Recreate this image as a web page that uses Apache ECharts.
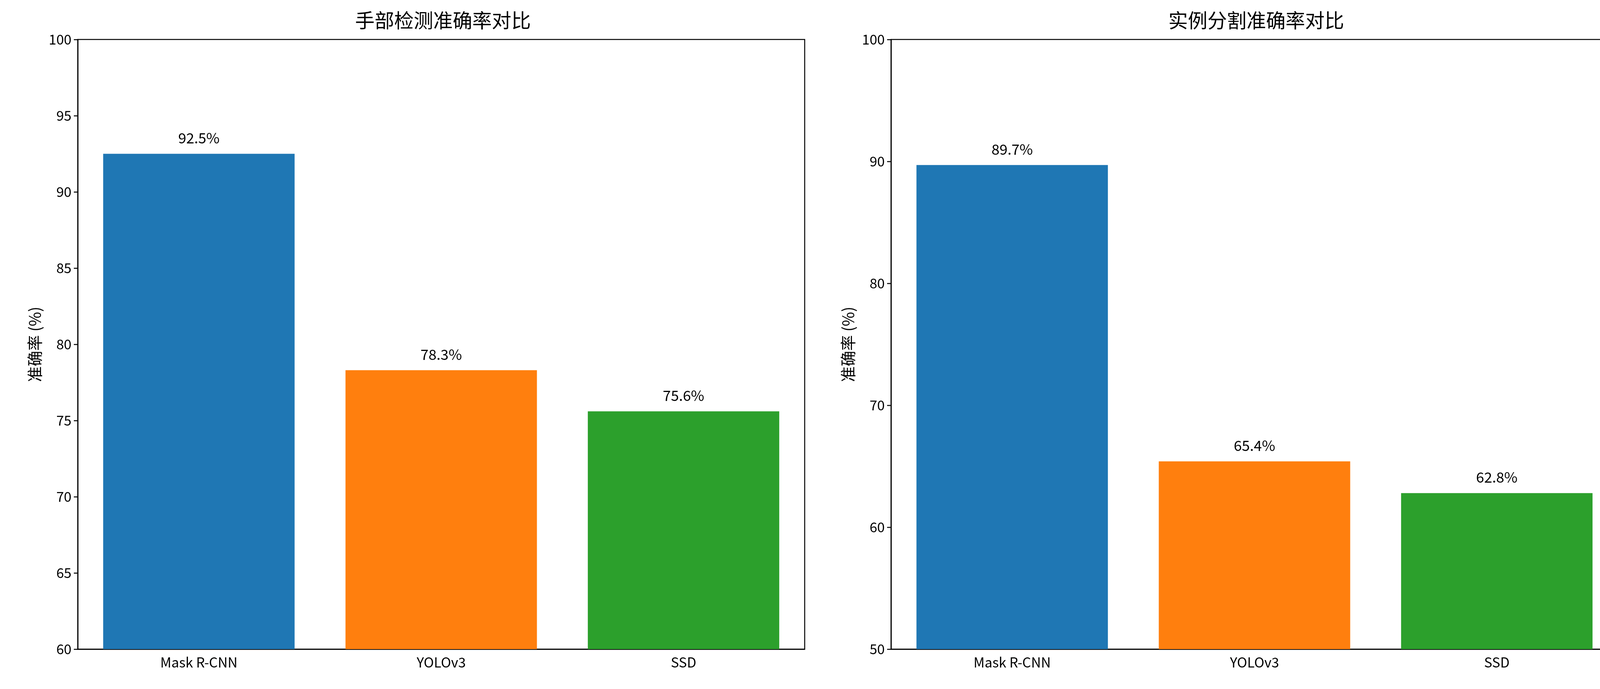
<!DOCTYPE html>
<html><head><meta charset="utf-8">
<script src="https://cdn.jsdelivr.net/npm/echarts@6/dist/echarts.min.js"></script>
<style>html,body{margin:0;background:#fff}#c{width:4168px;height:1763px}</style>
</head><body><div id="c"></div>
<script>
var categories = ['Mask R-CNN', 'YOLOv3', 'SSD'];
var handValues = [92.5, 78.3, 75.6];
var segValues = [89.7, 65.4, 62.8];
var colors = ['#1f77b4', '#ff7f0e', '#2ca02c'];
var titles = ['手部检测准确率对比', '实例分割准确率对比'];

var font = '"Noto Sans CJK SC", sans-serif';
var chart = echarts.init(document.getElementById('c'));

function grid(left) {
    return {left: left, width: 1861, top: 101, height: 1560, show: true, borderColor: '#000', borderWidth: 2.5, backgroundColor: 'transparent'};
}
function xAxis(i) {
    return {type: 'category', gridIndex: i, data: categories,
        axisLine: {lineStyle: {color: '#000', width: 2.5}},
        axisTick: {alignWithLabel: true, length: 10, lineStyle: {color: '#000', width: 2.5}},
        axisLabel: {color: '#000', fontSize: 35, fontFamily: font, margin: 16}};
}
function yAxis(i, min, interval) {
    return {type: 'value', gridIndex: i, min: min, max: 100, interval: interval,
        name: '准确率 (%)', nameLocation: 'middle', nameGap: 90,
        nameTextStyle: {color: '#000', fontSize: 40, fontFamily: font},
        axisLine: {show: true, lineStyle: {color: '#000', width: 2.5}},
        axisTick: {show: true, length: 10, lineStyle: {color: '#000', width: 2.5}},
        splitLine: {show: false},
        axisLabel: {color: '#000', fontSize: 35, fontFamily: font, margin: 16}};
}
function series(i, values) {
    return {type: 'bar', xAxisIndex: i, yAxisIndex: i, barWidth: '79%',
        data: values.map(function (v, k) { return {value: v, itemStyle: {color: colors[k]}}; }),
        label: {show: true, position: 'top', distance: 22, color: '#000', fontSize: 37, fontFamily: font,
            formatter: function (p) { return p.value.toFixed(1) + '%'; }}};
}

chart.setOption({
    animation: false,
    title: [
        {text: titles[0], left: 1129, top: 22, textAlign: 'center', textStyle: {fontSize: 50, fontWeight: 'normal', color: '#000', fontFamily: font}},
        {text: titles[1], left: 3211, top: 22, textAlign: 'center', textStyle: {fontSize: 50, fontWeight: 'normal', color: '#000', fontFamily: font}}
    ],
    grid: [grid(199), grid(2281)],
    xAxis: [xAxis(0), xAxis(1)],
    yAxis: [yAxis(0, 60, 5), yAxis(1, 50, 10)],
    series: [series(0, handValues), series(1, segValues)]
});
</script></body></html>
